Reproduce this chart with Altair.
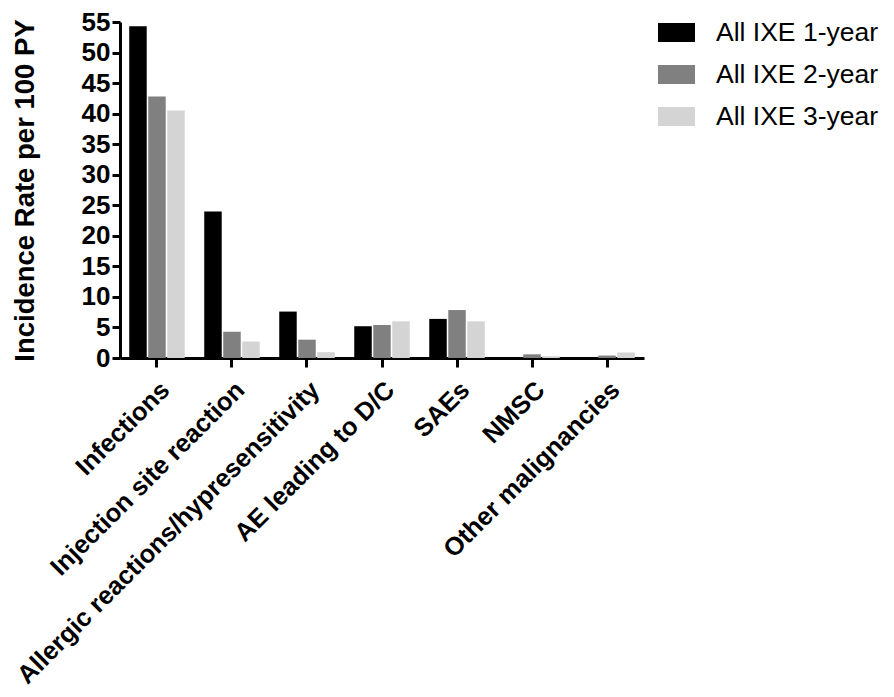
import altair as alt
import pandas as pd

categories = [
    "Infections",
    "Injection site reaction",
    "Allergic reactions/hypresensitivity",
    "AE leading to D/C",
    "SAEs",
    "NMSC",
    "Other malignancies",
]
series = ["All IXE 1-year", "All IXE 2-year", "All IXE 3-year"]
year1 = [54.3, 24.0, 7.6, 5.2, 6.4, 0.0, 0.0]
year2 = [42.8, 4.3, 3.0, 5.4, 7.85, 0.6, 0.4]
year3 = [40.5, 2.7, 0.95, 6.0, 6.0, 0.3, 0.9]
colors = ["#000000", "#808080", "#d4d4d4"]
y_ticks = [0, 5, 10, 15, 20, 25, 30, 35, 40, 45, 50, 55]

rows = []
for s, vals in zip(series, [year1, year2, year3]):
    for c, v in zip(categories, vals):
        rows.append({"category": c, "series": s, "value": v})
df = pd.DataFrame(rows)

FONT = "Liberation Sans"

chart = alt.Chart(df).mark_bar().encode(
    x=alt.X(
        "category:N",
        sort=categories,
        scale=alt.Scale(paddingInner=0.26, paddingOuter=0.123),
        axis=alt.Axis(
            title=None,
            labelAngle=-45,
            labelFont=FONT,
            labelFontWeight="bold",
            labelFontSize=25.5,
            labelLimit=1000,
            labelPadding=10,
            tickSize=9,
        ),
    ),
    xOffset=alt.XOffset(
        "series:N", sort=series, scale=alt.Scale(paddingInner=0.08, paddingOuter=0)
    ),
    y=alt.Y(
        "value:Q",
        scale=alt.Scale(domain=[0, 55], nice=False),
        axis=alt.Axis(
            values=y_ticks,
            title="Incidence Rate per 100 PY",
            titleFont=FONT,
            titleFontWeight="bold",
            titleFontSize=27.5,
            titlePadding=42,
            labelFont=FONT,
            labelFontWeight="bold",
            labelFontSize=26,
            labelPadding=2,
            tickSize=8,
            grid=False,
        ),
    ),
    color=alt.Color(
        "series:N",
        sort=series,
        scale=alt.Scale(domain=series, range=colors),
        legend=alt.Legend(
            title=None,
            orient="none",
            legendX=538,
            legendY=-8,
            labelFont=FONT,
            labelFontSize=26.5,
            labelFontWeight="normal",
            labelColor="black",
            labelLimit=400,
            symbolType="M-1,-0.51H1V0.51H-1Z",
            symbolSize=1369,
            symbolStrokeWidth=0,
            symbolOpacity=1,
            labelOffset=21,
            rowPadding=10,
            padding=0,
        ),
    ),
).properties(
    width=524,
    height=336,
    autosize=alt.AutoSizeParams(type="none"),
    padding={"left": 112, "top": 14, "right": 242, "bottom": 331},
).configure_view(
    stroke=None
).configure_axis(
    domainColor="black",
    domainWidth=3,
    tickColor="black",
    tickWidth=3,
    labelColor="black",
    titleColor="black",
    grid=False,
)

chart.save("out.html", embed_options={"renderer": "svg", "actions": False})
